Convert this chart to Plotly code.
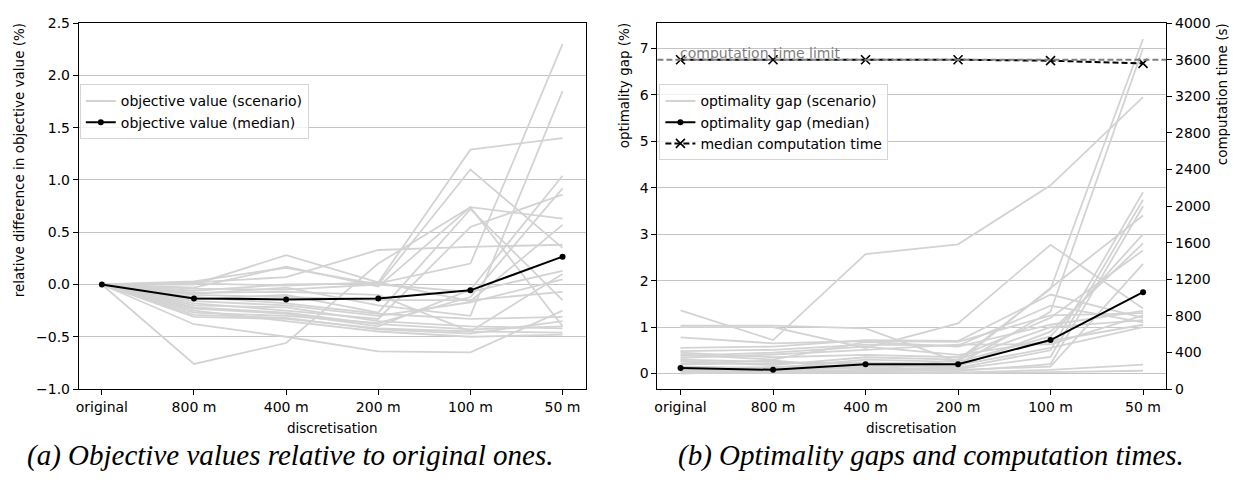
import plotly.graph_objects as go

W, H = 1236, 485

categories = ["original", "800 m", "400 m", "200 m", "100 m", "50 m"]

# (a) relative difference in objective value (%) per scenario
obj_scenarios = [
    [0, -0.76, -0.56, 0.20, 0.74, -0.40],
    [0, -0.38, -0.50, -0.64, -0.65, -0.25],
    [0, 0.02, 0.07, 0.33, 0.36, 0.38],
    [0, 0.00, 0.28, 0.02, 1.29, 1.40],
    [0, 0.03, 0.16, 0.00, 1.10, 0.35],
    [0, -0.03, 0.17, -0.02, 0.74, 0.63],
    [0, -0.06, 0.00, 0.01, 0.20, 2.30],
    [0, -0.09, -0.03, -0.20, -0.30, 1.85],
    [0, -0.14, -0.10, -0.27, 0.72, -0.15],
    [0, -0.18, -0.25, -0.33, 0.55, 0.86],
    [0, -0.23, -0.28, -0.40, -0.05, 1.04],
    [0, -0.27, -0.30, -0.37, -0.12, 0.92],
    [0, -0.20, -0.22, -0.35, -0.40, -0.42],
    [0, -0.31, -0.33, -0.42, -0.45, -0.46],
    [0, -0.25, -0.35, -0.45, -0.50, -0.48],
    [0, -0.12, -0.18, -0.28, -0.33, -0.31],
    [0, -0.04, -0.05, 0.00, -0.07, 0.13],
    [0, -0.16, -0.20, -0.30, -0.17, 0.05],
    [0, -0.10, -0.12, -0.15, -0.15, -0.07],
    [0, -0.22, -0.27, -0.38, -0.43, -0.40],
    [0, 0.01, -0.01, 0.02, -0.16, 0.57],
    [0, -0.08, -0.07, -0.10, -0.45, 0.10],
    [0, -0.29, -0.32, -0.43, -0.47, -0.35],
]
obj_median = [0.0, -0.134, -0.143, -0.133, -0.056, 0.266]

# (b) optimality gap (%) per scenario
gap_scenarios = [
    [1.36, 0.72, 2.57, 2.78, 4.05, 5.95],
    [1.03, 1.03, 0.97, 0.25, 1.84, 3.40],
    [1.00, 1.00, 0.55, 1.08, 2.77, 1.40],
    [0.78, 0.65, 0.70, 0.68, 1.25, 1.30],
    [0.55, 0.58, 0.72, 0.70, 1.70, 1.20],
    [0.48, 0.51, 0.62, 0.60, 1.46, 1.10],
    [0.41, 0.30, 0.68, 0.58, 1.05, 1.35],
    [0.34, 0.41, 0.51, 0.62, 0.63, 1.25],
    [0.27, 0.18, 0.35, 0.30, 1.82, 7.20],
    [0.20, 0.22, 0.24, 0.20, 1.33, 7.00],
    [0.10, 0.14, 0.18, 0.12, 0.50, 3.90],
    [0.04, 0.08, 0.12, 0.10, 0.36, 3.74],
    [0.00, 0.05, 0.08, 0.05, 0.20, 3.60],
    [0.15, 0.12, 0.30, 0.25, 0.80, 3.00],
    [0.30, 0.25, 0.20, 0.15, 0.90, 2.80],
    [0.45, 0.35, 0.40, 0.35, 1.20, 2.65],
    [0.22, 0.28, 0.10, 0.08, 0.15, 2.36],
    [0.05, 0.03, 0.04, 0.02, 0.08, 0.19],
    [0.02, 0.01, 0.02, 0.01, 0.03, 0.06],
    [0.12, 0.10, 0.15, 0.18, 0.55, 1.00],
    [0.38, 0.45, 0.58, 0.40, 0.70, 1.05],
    [0.08, 0.06, 0.05, 0.30, 1.00, 1.15],
]
gap_median = [0.12, 0.08, 0.20, 0.20, 0.72, 1.75]
time_median = [3600, 3600, 3600, 3600, 3590, 3560]
time_limit = 3600

obj_ticks = [-1.0, -0.5, 0.0, 0.5, 1.0, 1.5, 2.0, 2.5]
gap_ticks = [0, 1, 2, 3, 4, 5, 6, 7]
time_ticks = list(range(0, 4001, 400))

xs = list(range(len(categories)))

FONT = "DejaVu Sans"
LIGHT = "#d3d3d3"
GRID = "#c4c4c4"
TICK_SIZE = 14
fig = go.Figure()

for i, s in enumerate(obj_scenarios):
    fig.add_trace(go.Scatter(x=xs, y=s, mode="lines", line=dict(color=LIGHT, width=1.8),
                             name="objective value (scenario)", showlegend=(i == 0),
                             legend="legend", xaxis="x", yaxis="y", hoverinfo="skip"))
fig.add_trace(go.Scatter(x=xs, y=obj_median, mode="lines+markers",
                         line=dict(color="black", width=2), marker=dict(size=6, color="black"),
                         name="objective value (median)", legend="legend", xaxis="x", yaxis="y"))

for i, s in enumerate(gap_scenarios):
    fig.add_trace(go.Scatter(x=xs, y=s, mode="lines", line=dict(color=LIGHT, width=1.8),
                             name="optimality gap (scenario)", showlegend=(i == 0),
                             legend="legend2", xaxis="x2", yaxis="y2", hoverinfo="skip"))
fig.add_trace(go.Scatter(x=xs, y=gap_median, mode="lines+markers",
                         line=dict(color="black", width=2), marker=dict(size=6, color="black"),
                         name="optimality gap (median)", legend="legend2", xaxis="x2", yaxis="y2"))
fig.add_trace(go.Scatter(x=xs, y=time_median, mode="lines+markers",
                         line=dict(color="black", width=2, dash="6px,3px"),
                         marker=dict(symbol="x-thin", size=9, line=dict(width=1.6, color="black")),
                         name="median computation time", legend="legend2", xaxis="x2", yaxis="y3"))

fig.add_shape(type="line", xref="x2 domain", x0=0, x1=1, yref="y3", y0=time_limit, y1=time_limit,
              line=dict(color="#808080", width=2, dash="6px,3px"), layer="above")
fig.add_annotation(x=0, y=time_limit, xref="x2", yref="y3", text="computation time limit",
                   showarrow=False, xanchor="left", yanchor="bottom", yshift=-3, xshift=-3,
                   font=dict(family=FONT, size=TICK_SIZE, color="#808080"))

PX0, PX1 = 76, 584
QX0, QX1 = 656, 1166
TOP, BOT = 15.7, 394

def dom_x(a, b):
    return [a / W, b / W]

ydom = [(H - BOT) / H, (H - TOP) / H]

axis_common = dict(showline=True, linecolor="black", linewidth=1, mirror=True, ticks="outside",
                   ticklen=5, tickcolor="black", tickfont=dict(family=FONT, size=TICK_SIZE, color="black"),
                   zeroline=False)

legend_style = dict(xanchor="left", yanchor="top", bgcolor="rgba(255,255,255,0.8)",
                    bordercolor="#d5d5d5", borderwidth=1,
                    font=dict(family=FONT, size=TICK_SIZE, color="black"),
                    itemwidth=30, tracegroupgap=0)

fig.update_layout(
    width=W, height=H, margin=dict(l=0, r=0, t=0, b=0),
    paper_bgcolor="white", plot_bgcolor="white",
    font=dict(family=FONT, size=TICK_SIZE, color="black"),
    xaxis=dict(domain=dom_x(PX0, PX1), range=[-0.25, 5.25], tickvals=xs, ticktext=categories,
               showgrid=False, anchor="y", **axis_common),
    yaxis=dict(domain=ydom, range=[-1.0, 2.5], tickvals=obj_ticks, tickformat=".1f",
               showgrid=True, gridcolor=GRID, gridwidth=1, anchor="x", **axis_common),
    xaxis2=dict(domain=dom_x(QX0, QX1), range=[-0.25, 5.25], tickvals=xs, ticktext=categories,
                showgrid=False, anchor="y2", **axis_common),
    yaxis2=dict(domain=ydom, range=[-0.333, 7.54], tickvals=gap_ticks,
                showgrid=True, gridcolor=GRID, gridwidth=1, anchor="x2", **axis_common),
    yaxis3=dict(overlaying="y2", side="right", anchor="x2", range=[0, 4000], tickvals=time_ticks,
                showgrid=False, showline=True, linecolor="black", linewidth=1, ticks="outside",
                ticklen=5, tickcolor="black",
                tickfont=dict(family=FONT, size=TICK_SIZE, color="black"), zeroline=False),
    legend=dict(x=77 / W, y=(H - 79) / H, **legend_style),
    legend2=dict(x=658 / W, y=(H - 79) / H, **legend_style),
    showlegend=True,
)

def ann(text, x, y, angle=0, xa="center", ya="middle", size=13.5, family=FONT):
    fig.add_annotation(text=text, x=x / W, y=(H - y) / H, xref="paper", yref="paper",
                       showarrow=False, textangle=angle, xanchor=xa, yanchor=ya,
                       font=dict(family=family, size=size, color="black"))

ann("relative difference in objective value (%)", 16, TOP - 2, angle=-90, ya="top")
ann("optimality gap (%)", 622, TOP - 2, angle=-90, ya="top")
ann("computation time (s)", 1222, TOP - 2, angle=-90, ya="top")
ann("discretisation", (PX0 + PX1) / 2, 434)
ann("discretisation", (QX0 + QX1) / 2, 434)
ann("<i>(a) Objective values relative to original ones.</i>", 288, 463, size=29, family="Liberation Serif")
ann("<i>(b) Optimality gaps and computation times.</i>", 930, 463, size=29, family="Liberation Serif")

fig.write_html("out.html")
